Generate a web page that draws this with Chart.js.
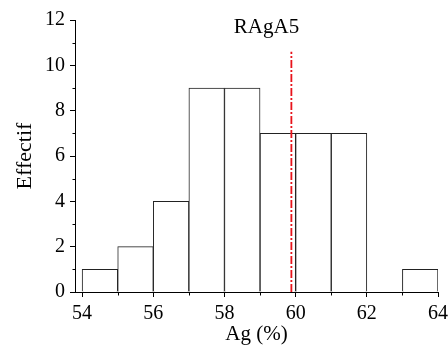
<!DOCTYPE html>
<html><head><meta charset="utf-8">
<script src="https://cdn.jsdelivr.net/npm/chart.js@4/dist/chart.umd.min.js"></script>
<style>html,body{margin:0;padding:0;background:#fff}#wrap{width:448px;height:347px}</style>
</head><body><div id="wrap"><canvas id="c" width="448" height="347"></canvas></div>
<script>
const binCenters = [54.5, 55.5, 56.5, 57.5, 58.5, 59.5, 60.5, 61.5, 62.5, 63.5];
const counts = [1, 2, 4, 9, 9, 7, 7, 7, 0, 1];
const xTickValues = [54, 56, 58, 60, 62, 64];
const xMinorTicks = [55, 57, 59, 61, 63];
const yMinorTicks = [1, 3, 5, 7, 9, 11];
const refLineX = 59.88;
const refLineTop = 10.6;
const refLabel = 'RAgA5';
const refLabelX = 59.18;
const refLabelY = 11.69;
const xTitle = 'Ag (%)';
const yTitle = 'Effectif';

const SERIF = "'Liberation Serif', 'Times New Roman', serif";

const extras = {
  id: 'extras',
  afterDraw(chart) {
    const ctx = chart.ctx;
    const xs = chart.scales.x, ys = chart.scales.y;
    ctx.save();
    ctx.strokeStyle = '#000';
    ctx.lineWidth = 1;
    ctx.beginPath();
    const yb = Math.round(ys.getPixelForValue(0)) + 0.5;
    xMinorTicks.forEach(v => {
      const px = Math.round(xs.getPixelForValue(v)) + 0.5;
      ctx.moveTo(px, yb); ctx.lineTo(px, yb + 3);
    });
    const xl = Math.round(xs.left) + 0.5;
    yMinorTicks.forEach(v => {
      const py = Math.round(ys.getPixelForValue(v)) + 0.5;
      ctx.moveTo(xl, py); ctx.lineTo(xl - 3, py);
    });
    ctx.stroke();
    ctx.fillStyle = '#000';
    ctx.font = '21px ' + SERIF;
    ctx.textAlign = 'center';
    ctx.textBaseline = 'middle';
    ctx.fillText(refLabel, xs.getPixelForValue(refLabelX), ys.getPixelForValue(refLabelY));
    ctx.restore();
  }
};

new Chart(document.getElementById('c'), {
  type: 'bar',
  data: {
    datasets: [
      {
        type: 'line',
        data: [{x: refLineX, y: 0}, {x: refLineX, y: refLineTop}],
        borderColor: '#e8131b',
        borderWidth: 1.8,
        borderDash: [8, 2, 2, 2],
        pointRadius: 0,
        fill: false,
        order: 0
      },
      {
        data: binCenters.map((c, i) => ({x: c, y: counts[i]})),
        backgroundColor: '#ffffff',
        borderColor: '#222222',
        borderWidth: 1,
        barPercentage: 1,
        categoryPercentage: 1,
        borderSkipped: 'start',
        order: 1
      }
    ]
  },
  options: {
    responsive: false,
    animation: false,
    devicePixelRatio: 1,
    layout: {padding: {top: 20, right: 10, left: 0, bottom: 0}},
    plugins: {legend: {display: false}, tooltip: {enabled: false}},
    scales: {
      x: {
        type: 'linear',
        offset: false,
        min: 53.8,
        max: 64,
        afterBuildTicks: s => { s.ticks = xTickValues.map(v => ({value: v})); },
        afterFit: s => { s.height = 55; s.paddingRight = 0; s.paddingLeft = 0; },
        grid: {offset: false, drawOnChartArea: false, drawTicks: true, tickLength: 5, color: '#000', tickColor: '#000'},
        border: {display: true, color: '#000', width: 1},
        ticks: {color: '#000', font: {family: SERIF, size: 20}, padding: 5, maxRotation: 0, autoSkip: false},
        title: {display: true, text: xTitle, color: '#000', font: {family: SERIF, size: 21}, padding: {top: 0, bottom: 0}}
      },
      y: {
        min: 0,
        max: 12,
        ticks: {stepSize: 2, color: '#000', font: {family: SERIF, size: 20}, padding: 5},
        afterFit: s => { s.width = 75; },
        grid: {drawOnChartArea: false, drawTicks: true, tickLength: 5, color: '#000', tickColor: '#000'},
        border: {display: true, color: '#000', width: 1},
        title: {display: true, text: yTitle, color: '#000', font: {family: SERIF, size: 22}, padding: {top: 12, bottom: 0}}
      }
    }
  },
  plugins: [extras]
});
</script>
</body></html>
